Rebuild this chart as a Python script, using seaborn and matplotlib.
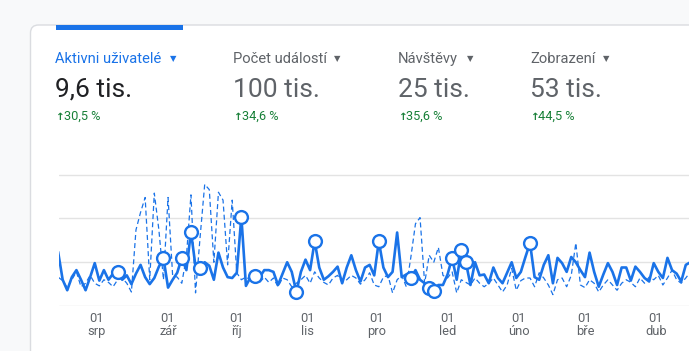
import pandas as pd
import matplotlib.pyplot as plt
import matplotlib.dates as mdates
from matplotlib.patches import FancyBboxPatch, Rectangle
from matplotlib.ticker import FuncFormatter
from matplotlib.transforms import IdentityTransform
import seaborn as sns

W, H = 689, 351

# header cards
metric_labels = ["Aktivni uživatelé", "Počet událostí", "Návštěvy", "Zobrazení"]
metric_values = ["9,6 tis.", "100 tis.", "25 tis.", "53 tis."]
metric_changes = ["30,5 %", "34,6 %", "35,6 %", "44,5 %"]

month_names = ["led", "úno", "bře", "dub", "kvě", "čvn", "čvc", "srp", "zář", "říj", "lis", "pro"]

# daily series (every second day)
start_date = "2023-07-15"
current = [
    62, 30, 18, 33, 41, 30, 18, 33, 49, 29,
    41, 30, 37, 39, 30, 35, 25, 37, 47, 33,
    25, 32, 45, 55, 21, 30, 38, 55, 41, 85,
    45, 44, 50, 46, 30, 61, 44, 33, 32, 38,
    102, 23, 33, 34, 33, 41, 41, 39, 24, 37,
    50, 39, 16, 39, 53, 41, 74, 44, 30, 34,
    39, 45, 26, 44, 58, 41, 28, 44, 47, 35,
    74, 44, 33, 39, 84, 33, 36, 32, 41, 30,
    26, 21, 17, 24, 24, 36, 55, 30, 64, 50,
    24, 50, 35, 36, 26, 44, 32, 26, 38, 50,
    32, 39, 56, 72, 33, 30, 47, 58, 26, 55,
    49, 39, 56, 50, 41, 33, 61, 39, 22, 36,
    49, 39, 24, 44, 44, 29, 45, 39, 32, 28,
    49, 39, 32, 55, 41, 37, 28, 47, 50,
]
previous = [
    33, 29, 21, 30, 39, 22, 26, 35, 26, 23,
    30, 27, 22, 30, 32, 26, 16, 87, 107, 124,
    30, 129, 87, 30, 124, 35, 33, 26, 56, 127,
    15, 79, 139, 133, 50, 130, 121, 47, 121, 38,
    30, 33, 30, 33, 27, 33, 27, 32, 22, 32,
    30, 22, 26, 30, 35, 26, 39, 32, 27, 24,
    32, 35, 27, 30, 35, 32, 25, 30, 38, 24,
    22, 33, 35, 15, 30, 35, 22, 56, 94, 101,
    26, 58, 50, 67, 35, 32, 39, 15, 30, 27,
    24, 32, 26, 22, 26, 32, 24, 16, 24, 43,
    18, 29, 32, 32, 22, 38, 32, 24, 13, 30,
    32, 22, 35, 72, 24, 21, 30, 26, 16, 24,
    30, 24, 18, 26, 30, 27, 22, 32, 26, 33,
    30, 35, 24, 32, 41, 30, 26, 32, 39,
]
anomaly_idx = [13, 23, 27, 29, 31, 40, 43, 52, 56, 70, 77, 81, 82, 86, 88, 89, 103]

dates = pd.date_range(start_date, periods=len(current), freq="2D")
df = pd.DataFrame({"datum": dates, "aktualni": current, "predchozi": previous})
df_anom = df.iloc[anomaly_idx]

BLUE = "#1a73e8"
GREY = "#5f6368"
GREEN = "#188038"

sns.set_theme(style="white")
plt.rcParams["font.family"] = ["Roboto", "DejaVu Sans"]

fig = plt.figure(figsize=(W / 100, H / 100), dpi=100, facecolor="#f8f9fa")

# white card + blue tab
card = FancyBboxPatch((30.5, -20), 700, 351 - 25 + 20, boxstyle="round,pad=0,rounding_size=8",
                      transform=IdentityTransform(), facecolor="white", edgecolor="#dadce0",
                      linewidth=1, zorder=-2)
fig.add_artist(card)
tab = Rectangle((56, 351 - 30), 127, 5, transform=IdentityTransform(),
                facecolor=BLUE, edgecolor="none", zorder=-1)
fig.add_artist(tab)

# header texts
label_x = [55, 233, 398, 530]
tri_x = [173.5, 337, 470, 606.6]
for i in range(4):
    lc = BLUE if i == 0 else GREY
    vc = "#202124" if i == 0 else GREY
    x = label_x[i] / W
    fig.text(x, 1 - 63 / H, metric_labels[i], fontsize=10.6, color=lc, va="baseline")
    fig.text(tri_x[i] / W, 1 - 59 / H, "▼", fontsize=6, color=lc, ha="center", va="center",
             family="DejaVu Sans")
    fig.text(x, 1 - 97 / H, metric_values[i], fontsize=19, color=vc, va="baseline")
    fig.text((label_x[i] + 0.5) / W, 1 - 120 / H, "↑", fontsize=7.5, color=GREEN, va="baseline",
             family="DejaVu Sans", fontweight="bold")
    fig.text((label_x[i] + 8.5) / W, 1 - 120 / H, metric_changes[i], fontsize=9.2,
             color=GREEN, va="baseline")

# chart
ax = fig.add_axes([59 / W, 45 / H, 1 - 59 / W, 140 / H])
ax.patch.set_alpha(0)

sns.lineplot(data=df, x="datum", y="predchozi", ax=ax, color=BLUE, linewidth=0.9,
             linestyle=(0, (4, 2.5)), zorder=2)
sns.lineplot(data=df, x="datum", y="aktualni", ax=ax, color=BLUE, linewidth=1.9, zorder=3)
sns.scatterplot(data=df_anom, x="datum", y="aktualni", ax=ax, s=85, color="white",
                edgecolor=BLUE, linewidth=1.7, zorder=4)

aug1 = pd.Timestamp("2023-08-01")
ax.set_xlim(aug1 - pd.Timedelta(days=16.6), aug1 + pd.Timedelta(days=258.4))
ax.set_ylim(0, 160)
ax.set_yticks([0, 50, 100, 150])
ax.yaxis.grid(True, color="#e3e3e3", linewidth=1)
ax.set_axisbelow(True)
ax.tick_params(axis="y", length=0, labelleft=False)
for s in ax.spines.values():
    s.set_visible(False)

ax.xaxis.set_major_locator(mdates.MonthLocator(bymonthday=1))
ax.xaxis.set_major_formatter(FuncFormatter(
    lambda v, pos: "01\n" + month_names[mdates.num2date(v).month - 1]))
ax.tick_params(axis="x", length=4, width=1, color="#dadce0", labelsize=9.3,
               labelcolor=GREY, pad=0.5)
ax.set_xlabel("")
ax.set_ylabel("")

fig.canvas.draw()
for t in ax.get_xticklabels():
    t.set_linespacing(1.0)

plt.savefig("out.png", dpi=100, facecolor=fig.get_facecolor())
